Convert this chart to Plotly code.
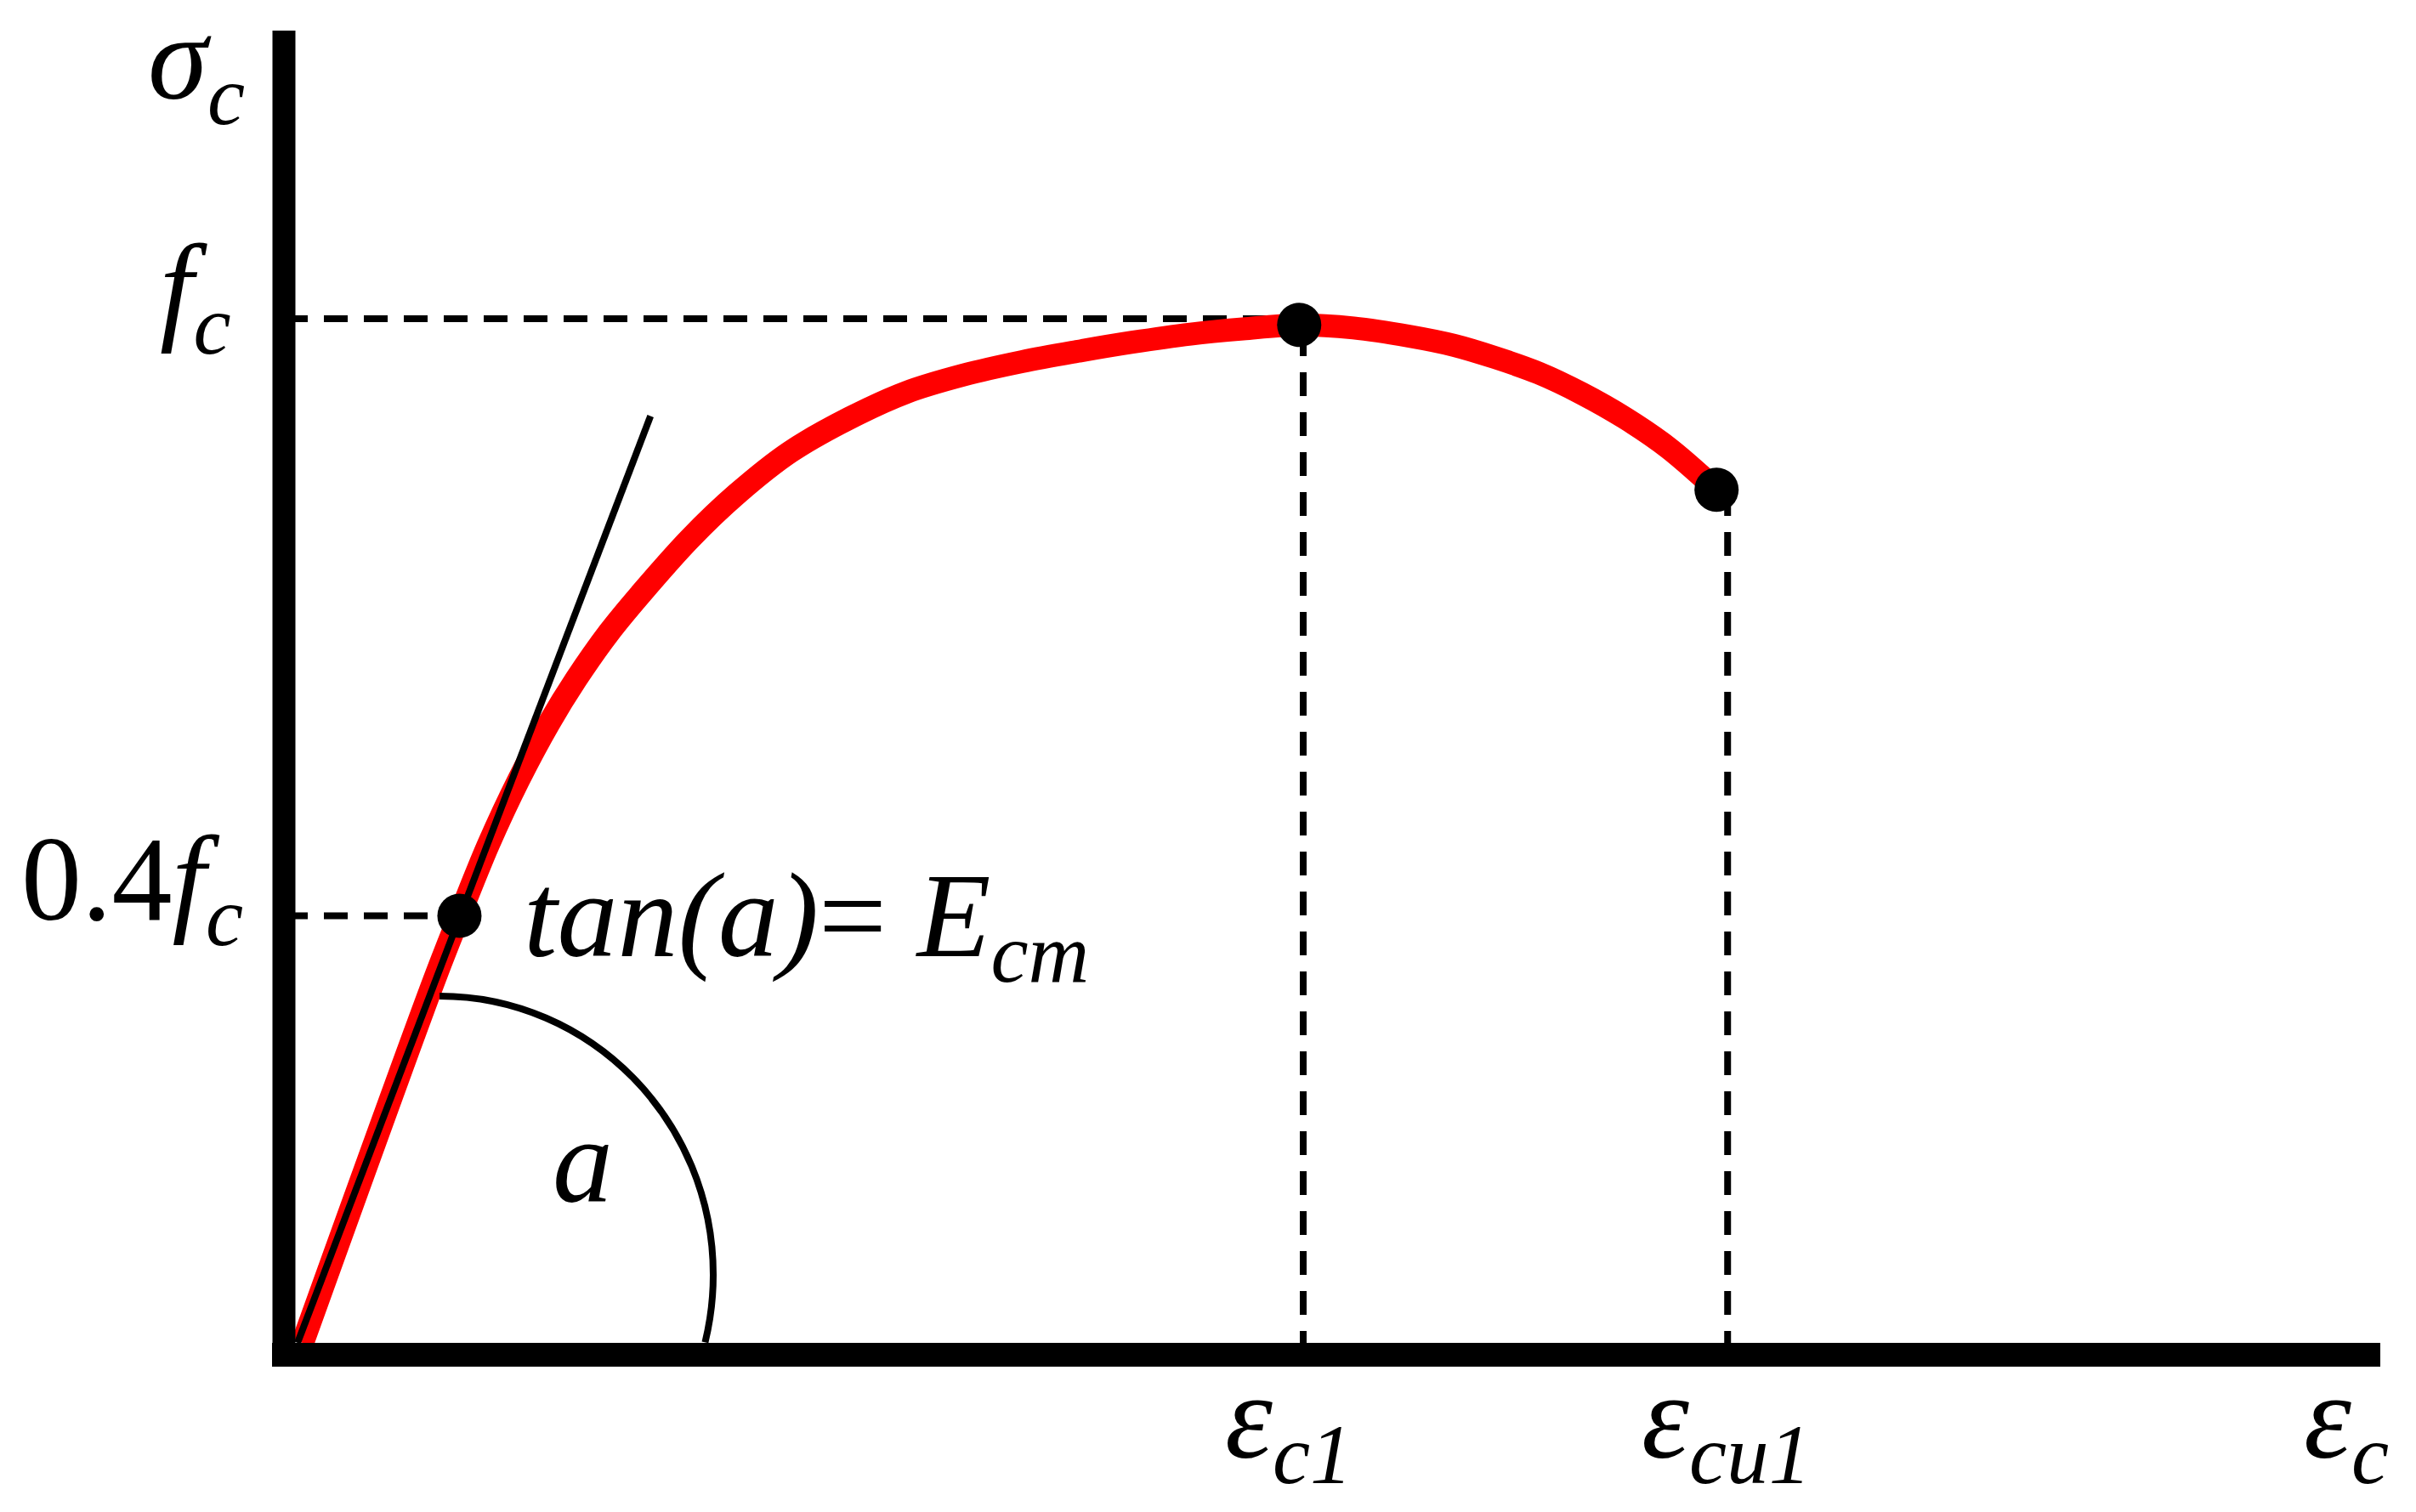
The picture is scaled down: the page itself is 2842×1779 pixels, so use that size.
import math
import plotly.graph_objects as go

# Schematic concrete stress-strain curve.
# strain is given as eps / eps_c1, stress as sigma / f_c
strain = [0.005, 0.137, 0.161, 0.190, 0.220, 0.250, 0.277, 0.310, 0.341, 0.390,
          0.437, 0.490, 0.549, 0.605, 0.662, 0.720, 0.775, 0.830, 0.888, 0.940,
          0.996, 1.050, 1.105, 1.150, 1.191, 1.234, 1.277, 1.320, 1.363, 1.411]
stress = [0.000, 0.357, 0.417, 0.487, 0.550, 0.605, 0.648, 0.694, 0.731, 0.785,
          0.829, 0.870, 0.903, 0.928, 0.945, 0.958, 0.968, 0.977, 0.985, 0.990,
          0.994, 0.991, 0.983, 0.974, 0.962, 0.947, 0.927, 0.903, 0.874, 0.833]

# marked points: 0.4 f_c, peak (eps_c1, f_c), ultimate (eps_cu1)
point_strain = [0.161, 0.996, 1.411]
point_stress = [0.417, 0.994, 0.833]

# tangent line for E_cm
tangent_strain = [0.0, 0.351]
tangent_stress = [0.0, 0.905]

# reference levels
f_c = 1.0
f_c04 = 0.417
eps_c1 = 1.0
eps_cu1 = 1.422

# page geometry (pixels); the page body has an 8px margin
PAGE_OFF = 8
W, H = 2842 - 2 * PAGE_OFF, 1779 - 2 * PAGE_OFF
X0_PX, Y0_PX = 350 - PAGE_OFF, 1580 - PAGE_OFF
SX, SY = 1183.0, 1205.0

x_range = [-X0_PX / SX, (W - X0_PX) / SX]
y_range = [-(H - Y0_PX) / SY, Y0_PX / SY]

axis_x = -16 / SX          # centre of the vertical axis bar
axis_y = -14 / SY          # centre of the horizontal axis bar
axis_top = 1544 / SY
axis_bottom = -28 / SY
axis_left = -30 / SX
axis_right = 2450 / SX

FONT = "Liberation Serif, Times New Roman, serif"
FS = 142

fig = go.Figure()

dash = "28px,19px"
# dashed guide lines
fig.add_trace(go.Scatter(x=[axis_x, point_strain[1]], y=[f_c, f_c], mode="lines",
                         line=dict(color="black", width=8, dash=dash)))
fig.add_trace(go.Scatter(x=[axis_x, point_strain[0]], y=[f_c04, f_c04], mode="lines",
                         line=dict(color="black", width=8, dash=dash)))
fig.add_trace(go.Scatter(x=[eps_c1, eps_c1], y=[axis_y, point_stress[1]], mode="lines",
                         line=dict(color="black", width=8, dash=dash)))
fig.add_trace(go.Scatter(x=[eps_cu1, eps_cu1], y=[axis_y, point_stress[2]], mode="lines",
                         line=dict(color="black", width=8, dash=dash)))

# the curve
fig.add_trace(go.Scatter(x=strain, y=stress, mode="lines",
                         line=dict(color="#ff0000", width=27, shape="spline", smoothing=1.0)))

# tangent line
fig.add_trace(go.Scatter(x=tangent_strain, y=tangent_stress, mode="lines",
                         line=dict(color="black", width=8)))

# points
fig.add_trace(go.Scatter(x=point_strain, y=point_stress, mode="markers",
                         marker=dict(color="black", size=52, line=dict(width=0))))

# axes as thick bars
fig.add_shape(type="line", x0=axis_x, x1=axis_x, y0=axis_bottom, y1=axis_top,
              line=dict(color="black", width=27), layer="above")
fig.add_shape(type="line", x0=axis_left, x1=axis_right, y0=axis_y, y1=axis_y,
              line=dict(color="black", width=28), layer="above")

# angle arc (quarter ellipse + short tail), built from bezier segments
cx, cy = 167 / SX, 80 / SY
rx, ry = 322 / SX, 328 / SY
k = 0.5523
a1 = math.radians(-14)
k2 = 4 / 3 * math.tan(abs(a1) / 4)
ex, ey = cx + rx * math.cos(a1), cy + ry * math.sin(a1)
path = (
    f"M {cx},{cy + ry} "
    f"C {cx + k * rx},{cy + ry} {cx + rx},{cy + k * ry} {cx + rx},{cy} "
    f"C {cx + rx},{cy - k2 * ry} "
    f"{ex - k2 * rx * math.sin(a1)},{ey + k2 * ry * math.cos(a1)} {ex},{ey}"
)
fig.add_shape(type="path", path=path, line=dict(color="black", width=8), layer="above")


def label(text, x, y, xanchor="center"):
    fig.add_annotation(x=x, y=y, text=text, showarrow=False, xanchor=xanchor,
                       yanchor="middle", font=dict(family=FONT, size=FS, color="black"))


label("<i>σ</i><sub><i>c</i></sub>", -60 / SX, 1502 / SY, "right")
label("<i>f</i><sub><i>c</i></sub>", -76 / SX, 1232 / SY, "right")
label("0.4<i>f</i><sub><i>c</i></sub>", -62 / SX, 536 / SY, "right")
label("<i>tan(a)</i>= <i>E</i><sub><i>cm</i></sub>", 264 / SX, 493 / SY, "left")
label("<i>a</i>", 335 / SX, 214 / SY)
label("<i>ε</i><sub><i>c1</i></sub>", 1166 / SX, -97 / SY)
label("<i>ε</i><sub><i>cu1</i></sub>", 1680 / SX, -97 / SY)
label("<i>ε</i><sub><i>c</i></sub>", 2410 / SX, -97 / SY)

fig.update_layout(
    width=W, height=H,
    margin=dict(l=0, r=0, t=0, b=0),
    paper_bgcolor="white", plot_bgcolor="white",
    showlegend=False,
    hovermode=False,
    xaxis=dict(range=x_range, visible=False, fixedrange=True),
    yaxis=dict(range=y_range, visible=False, fixedrange=True),
)

fig.write_html("out.html", config={"displayModeBar": False})
